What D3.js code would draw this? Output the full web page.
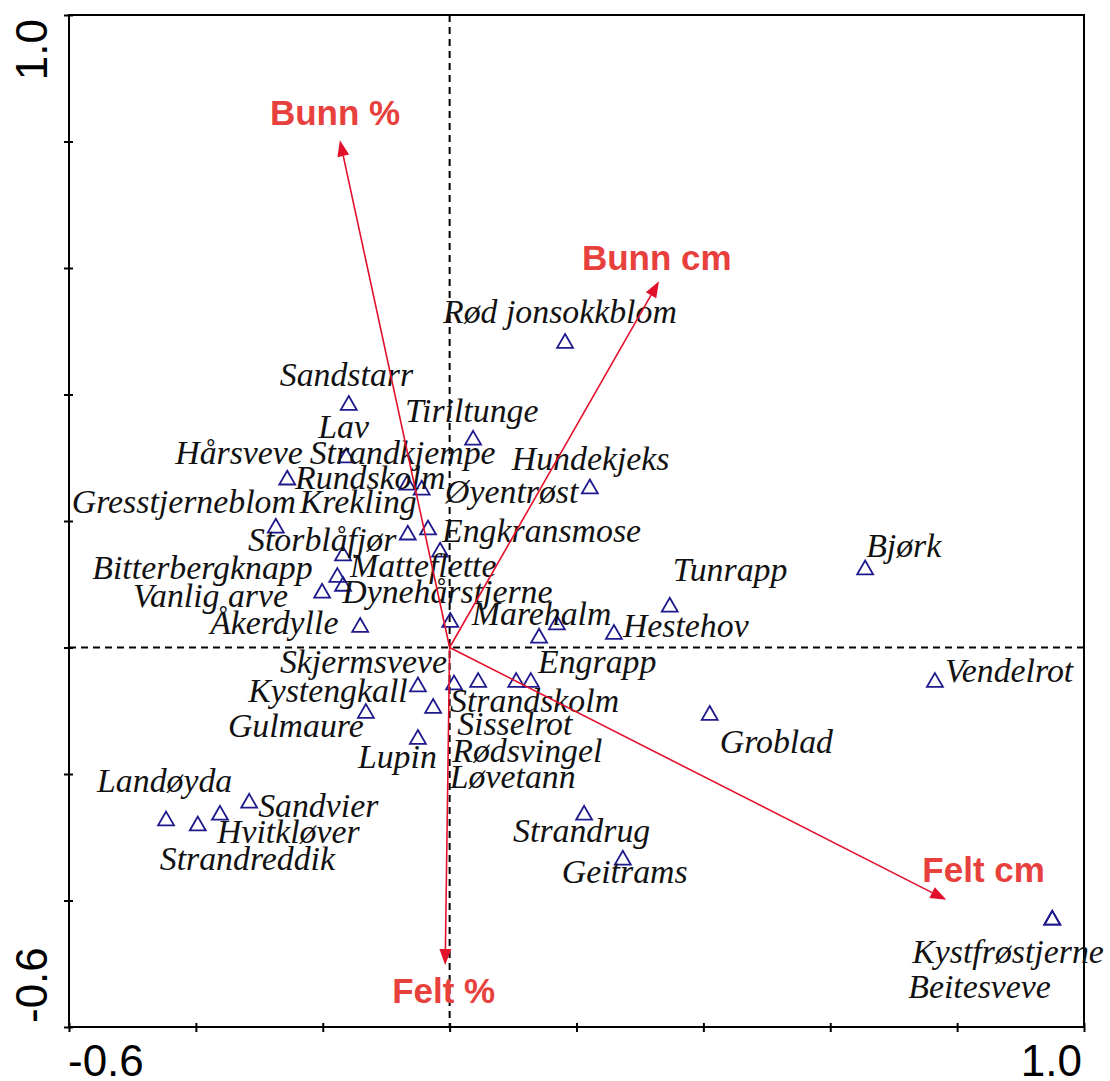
<!DOCTYPE html>
<html>
<head>
<meta charset="utf-8">
<script src="https://cdn.jsdelivr.net/npm/d3@7"></script>
<style>
  html, body { margin: 0; padding: 0; background: #fff; }
  svg { display: block; }
</style>
</head>
<body>
<svg width="1110" height="1081"></svg>
<script>
// ---- data ----
const species = ["Rød jonsokkblom","Sandstarr","Tiriltunge","Lav","Hårsveve","Strandkjempe","Rundskolm","Hundekjeks",
  "Gresstjerneblom","Krekling","Engkransmose","Øyentrøst","Storblåfjør","Bitterbergknapp","Matteflette","Vanlig arve",
  "Åkerdylle","Dynehårstjerne","Marehalm","Engrapp","Hestehov","Tunrapp","Bjørk","Vendelrot",
  "Skjermsveve","Strandskolm","Sisselrot","Rødsvingel","Løvetann","Kystengkall","Gulmaure","Lupin","Groblad",
  "Sandvier","Hvitkløver","Strandreddik","Landøyda","Strandrug","Geitrams","Kystfrøstjerne","Beitesveve"];
const speciesX = [0.182,-0.159,0.037,-0.163,-0.256,-0.044,-0.067,0.221,
  -0.274,-0.066,-0.034,-0.015,-0.168,-0.177,-0.168,-0.201,
  -0.141,0.001,0.169,0.141,0.259,0.347,0.655,0.765,
  -0.050,0.007,0.045,0.105,0.128,-0.026,-0.132,-0.050,0.410,
  -0.316,-0.362,-0.397,-0.447,0.212,0.273,0.950,0.950];
const speciesY = [0.481,0.383,0.328,0.300,0.265,0.249,0.257,0.251,
  0.189,0.178,0.186,0.151,0.145,0.111,0.097,0.086,
  0.032,0.040,0.036,0.015,0.021,0.064,0.123,-0.055,
  -0.062,-0.059,-0.055,-0.055,-0.055,-0.096,-0.104,-0.145,-0.107,
  -0.246,-0.265,-0.282,-0.274,-0.265,-0.336,-0.431,-0.431];

const variables = ["Bunn %","Bunn cm","Felt cm","Felt %"];
const variableX = [-0.173, 0.330, 0.783, -0.007];
const variableY = [0.802, 0.579, -0.399, -0.502];

const ticks = [-0.6,-0.4,-0.2,0,0.2,0.4,0.6,0.8,1.0];
const tickLabels = [-0.6, 1.0];

// label placement (pixel offsets from point: start x, baseline y)
const speciesLabelOffset = [[-122,-20],[-69,-19],[-68,-18],[-28,-20],[-112,-16],[-112,-26],[-112,4],[-78,-19],
  [-204,-15],[-108,-22],[14,12],[5,-49],[-95,-5],[-245,2],[7,-9],[-189,14],
  [-150,7],[-108,-19],[-85,0],[-1,35],[9,3],[3,-26],[1,-13],[10,0],
  [-138,-14],[-4,27],[-21,53],[-64,80],[-81,106],[-185,-6],[-138,24],[-60,29],[10,38],
  [9,14],[-3,28],[-38,44],[-69,-29],[-71,27],[-61,23],[-140,43],[-144,78]];
const variableLabelOffset = [[-70,-15],[-77,-11],[-24,-18],[-53,38]];

// ---- layout ----
const svg = d3.select("svg");
const m = { left: 69, right: 1084, top: 15, bottom: 1027 };
const x = d3.scaleLinear().domain([-0.6, 1.0]).range([m.left, m.right]);
const y = d3.scaleLinear().domain([-0.6, 1.0]).range([m.bottom, m.top]);

// zero lines
svg.append("line").attr("x1", x(0)).attr("x2", x(0)).attr("y1", m.top).attr("y2", m.bottom)
  .attr("stroke", "#000").attr("stroke-width", 2).attr("stroke-dasharray", "7,5");
svg.append("line").attr("x1", m.left).attr("x2", m.right).attr("y1", y(0)).attr("y2", y(0))
  .attr("stroke", "#000").attr("stroke-width", 2).attr("stroke-dasharray", "7,5");

// frame
svg.append("rect").attr("x", m.left).attr("y", m.top).attr("width", m.right - m.left).attr("height", m.bottom - m.top)
  .attr("fill", "none").attr("stroke", "#000").attr("stroke-width", 2);

// axes (ticks crossing the frame)
const gx = svg.append("g").attr("transform", `translate(0,${m.bottom})`)
  .call(d3.axisBottom(x).tickValues(ticks).tickSize(5).tickFormat(""));
gx.select(".domain").remove();
gx.selectAll(".tick line").attr("y1", -4).attr("stroke-width", 2);
const gy = svg.append("g").attr("transform", `translate(${m.left},0)`)
  .call(d3.axisLeft(y).tickValues(ticks).tickSize(5).tickFormat(""));
gy.select(".domain").remove();
gy.selectAll(".tick line").attr("x1", 4).attr("stroke-width", 2);

const fmt = d => d.toFixed(1);
svg.selectAll(".xlab").data(tickLabels).enter().append("text")
  .attr("x", (d, i) => x(d) + (i === 0 ? -1 : -2)).attr("y", 1076)
  .attr("text-anchor", (d, i) => i === 0 ? "start" : "end")
  .attr("font-family", "Liberation Sans, Arial, sans-serif").attr("font-size", 44)
  .text(fmt);
svg.selectAll(".ylab").data(tickLabels).enter().append("text")
  .attr("transform", (d, i) => `translate(47,${y(d) + (i === 0 ? -4 : 4)}) rotate(-90)`)
  .attr("text-anchor", (d, i) => i === 0 ? "start" : "end")
  .attr("font-family", "Liberation Sans, Arial, sans-serif").attr("font-size", 44)
  .text(fmt);

// species
const sp = species.map((name, i) => ({ name, px: x(speciesX[i]), py: y(speciesY[i]), off: speciesLabelOffset[i] }));
svg.selectAll(".sp").data(sp).enter().append("path")
  .attr("d", d3.symbol().type(d3.symbolTriangle).size(110))
  .attr("transform", d => `translate(${d.px},${d.py})`)
  .attr("fill", "none").attr("stroke", "#1e1a8c").attr("stroke-width", 1.8);
svg.selectAll(".spl").data(sp).enter().append("text")
  .attr("x", d => d.px + d.off[0]).attr("y", d => d.py + d.off[1])
  .attr("font-family", "Liberation Serif, Times New Roman, serif").attr("font-style", "italic")
  .attr("font-size", 33.8).attr("fill", "#111")
  .text(d => d.name);

// environmental arrows
const arrowColor = "#e3102c";
const ox = x(0), oy = y(0);
const vars = variables.map((name, i) => ({ name, tx: x(variableX[i]), ty: y(variableY[i]), off: variableLabelOffset[i] }));
vars.forEach(v => {
  const ang = Math.atan2(v.ty - oy, v.tx - ox);
  const hl = 16, hw = 6;
  const bx = v.tx - hl * Math.cos(ang), by = v.ty - hl * Math.sin(ang);
  svg.append("line").attr("x1", ox).attr("y1", oy).attr("x2", bx).attr("y2", by)
    .attr("stroke", arrowColor).attr("stroke-width", 1.6);
  const pts = [[v.tx, v.ty],
    [bx + hw * Math.sin(ang), by - hw * Math.cos(ang)],
    [bx - hw * Math.sin(ang), by + hw * Math.cos(ang)]];
  svg.append("path").attr("d", d3.line()(pts) + "Z").attr("fill", arrowColor);
});
svg.selectAll(".vl").data(vars).enter().append("text")
  .attr("x", d => d.tx + d.off[0]).attr("y", d => d.ty + d.off[1])
  .attr("font-family", "Liberation Sans, Arial, sans-serif").attr("font-weight", "bold")
  .attr("font-size", 35).attr("fill", "#e8413d")
  .text(d => d.name);
</script>
</body>
</html>
